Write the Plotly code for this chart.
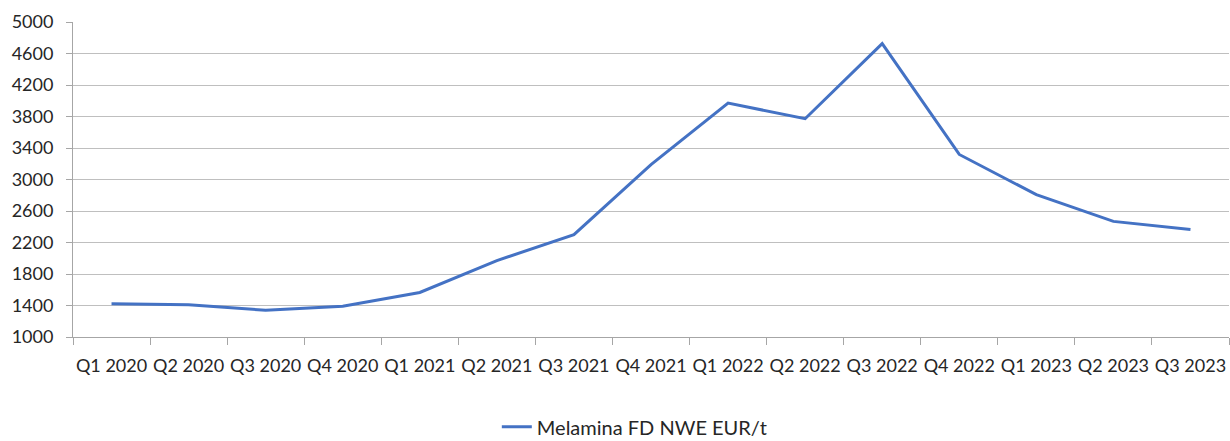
import plotly.graph_objects as go

categories = ["Q1 2020", "Q2 2020", "Q3 2020", "Q4 2020",
              "Q1 2021", "Q2 2021", "Q3 2021", "Q4 2021",
              "Q1 2022", "Q2 2022", "Q3 2022", "Q4 2022",
              "Q1 2023", "Q2 2023", "Q3 2023"]
values = [1422, 1410, 1340, 1390,
          1565, 1970, 2300, 3190,
          3970, 3772, 4725, 3318,
          2808, 2468, 2365]
series_name = "Melamina FD NWE EUR/t"
y_ticks = list(range(1000, 5001, 400))

fig = go.Figure()
fig.add_trace(go.Scatter(
    x=categories, y=values, mode="lines", name=series_name,
    line=dict(color="#4472C4", width=3),
    showlegend=True,
))

font_family = "Lato, 'Liberation Sans', sans-serif"
fig.update_layout(
    width=1230, height=441,
    margin=dict(l=73, r=1, t=22, b=104, autoexpand=False),
    paper_bgcolor="white", plot_bgcolor="white",
    font=dict(family=font_family, size=18, color="#262626"),
    showlegend=True,
    legend=dict(orientation="h", x=0.486, xanchor="center", y=-0.285, yanchor="middle",
                font=dict(size=20, color="#262626")),
    xaxis=dict(
        type="category", categoryorder="array", categoryarray=categories,
        automargin=False, tickangle=0,
        showgrid=False, showline=True, linecolor="#a6a6a6", linewidth=1,
        ticks="outside", tickson="boundaries", ticklen=7, tickcolor="#a6a6a6",
        tickfont=dict(size=18, color="#262626"),
        ticklabelstandoff=12,
        range=[-0.5, len(categories) - 0.5],
    ),
    yaxis=dict(
        range=[1000, 5000], tickvals=y_ticks, automargin=False,
        showgrid=True, gridcolor="#bfbfbf", gridwidth=1,
        showline=True, linecolor="#a6a6a6", linewidth=1,
        ticks="outside", ticklen=6, tickcolor="#a6a6a6",
        tickfont=dict(size=18, color="#262626"),
        ticklabelstandoff=9,
        zeroline=False,
    ),
)

fig.write_html("out.html", config={"displayModeBar": False},
               post_script="document.body.style.margin='0px';")
